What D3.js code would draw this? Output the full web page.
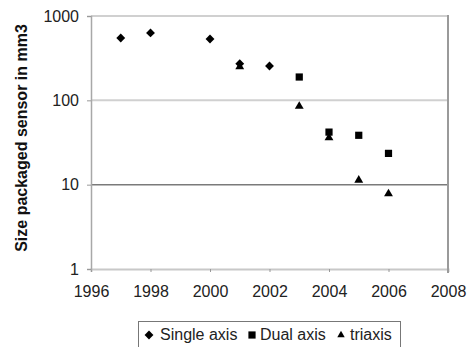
<!DOCTYPE html>
<html>
<head>
<meta charset="utf-8">
<script src="https://cdn.jsdelivr.net/npm/d3@7"></script>
<style>
  body { margin: 0; background: #fff; }
  text { font-family: "Liberation Sans", Arial, sans-serif; }
</style>
</head>
<body>
<script>
// values
var singleYears = [1997, 1998, 2000, 2001, 2002];
var singleVals  = [548, 630, 533, 272, 255];
var dualYears   = [2003, 2004, 2005, 2006];
var dualVals    = [189, 42, 38.5, 23.5];
var triYears    = [2001, 2003, 2004, 2005, 2006];
var triVals     = [250, 85, 36, 11.3, 7.8];
var xTicks = [1996, 1998, 2000, 2002, 2004, 2006, 2008];
var yTicks = [1, 10, 100, 1000];
var legendText = ["Single axis", "Dual axis", "triaxis"];

var width = 467, height = 347;
var mLeft = 91, mRight = 448, mTop = 16, mBottom = 269;

var svg = d3.select("body").append("svg")
    .attr("width", width)
    .attr("height", height);

var x = d3.scaleLinear().domain([1996, 2008]).range([mLeft, mRight]);
var y = d3.scaleLog().domain([1, 1000]).range([mBottom, mTop]);

// gridlines
svg.selectAll("line.grid")
    .data([100, 1000])
    .enter().append("line")
    .attr("class", "grid")
    .attr("x1", mLeft).attr("x2", mRight)
    .attr("y1", d => y(d)).attr("y2", d => y(d))
    .style("stroke", "#d0d0d0")
    .style("stroke-width", 2);
svg.append("line")
    .attr("x1", mLeft).attr("x2", mRight)
    .attr("y1", y(10)).attr("y2", y(10))
    .style("stroke", "#7a7a7a")
    .style("stroke-width", 1.5);

// x axis
var xAxis = d3.axisBottom(x).tickValues(xTicks).tickFormat(d3.format("d")).tickSize(3).tickPadding(14);
var gx = svg.append("g").attr("transform", "translate(0," + mBottom + ")").call(xAxis);
gx.select(".domain").style("stroke", "#c8c8c8").style("stroke-width", 2);
gx.selectAll(".tick line").style("stroke", "#999");
gx.selectAll("text").style("font-size", "16px").style("fill", "#222");

// y axis
var yAxis = d3.axisLeft(y).tickValues(yTicks).tickFormat(d3.format("d")).tickSize(4).tickPadding(8);
var gy = svg.append("g").attr("transform", "translate(" + mLeft + ",0)").call(yAxis);
gy.select(".domain").style("stroke", "#a8a8a8").style("stroke-width", 1.5);
gy.selectAll(".tick line").style("stroke", "#999");
gy.selectAll("text").style("font-size", "16px").style("fill", "#222");

// right border
svg.append("line")
    .attr("x1", mRight).attr("x2", mRight)
    .attr("y1", mTop - 1).attr("y2", mBottom + 4)
    .style("stroke", "#9a9a9a")
    .style("stroke-width", 2);

// y title
svg.append("text")
    .attr("transform", "translate(27,138) rotate(-90)")
    .attr("text-anchor", "middle")
    .style("font-size", "16px")
    .style("font-weight", "bold")
    .style("fill", "#111")
    .text("Size packaged sensor in mm3");

var sym = {
  diamond: d3.symbol().type(d3.symbolDiamond2).size(50),
  square: d3.symbol().type(d3.symbolSquare).size(52),
  triangle: d3.symbol().type(d3.symbolTriangle).size(34)
};

function drawSeries(years, vals, s) {
  svg.append("g").selectAll("path")
    .data(years.map((yr, i) => [yr, vals[i]]))
    .enter().append("path")
    .attr("transform", d => "translate(" + x(d[0]) + "," + y(d[1]) + ")")
    .attr("d", sym[s])
    .style("fill", "#000");
}
drawSeries(singleYears, singleVals, "diamond");
drawSeries(dualYears, dualVals, "square");
drawSeries(triYears, triVals, "triangle");

// legend
svg.append("rect")
    .attr("x", 138.5).attr("y", 321.5)
    .attr("width", 262).attr("height", 40)
    .style("fill", "none")
    .style("stroke", "#777");

var legendSyms = ["diamond", "square", "triangle"];
var legendX = [149, 252, 341];
var legendTx = [160, 260, 350];
legendSyms.forEach(function(s, i) {
  svg.append("path")
    .attr("transform", "translate(" + legendX[i] + "," + 335 + ")")
    .attr("d", s === "triangle" ? d3.symbol().type(d3.symbolTriangle).size(24)() : sym[s]())
    .style("fill", "#000");
  svg.append("text")
    .attr("x", legendTx[i])
    .attr("y", 340)
    .style("font-size", "16px")
    .style("fill", "#222")
    .text(legendText[i]);
});
</script>
</body>
</html>
